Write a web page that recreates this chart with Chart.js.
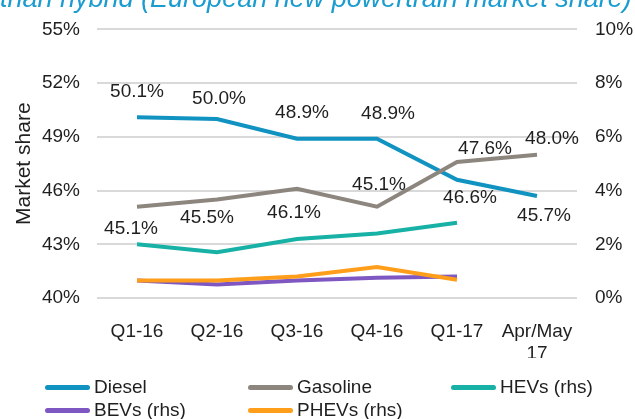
<!DOCTYPE html>
<html>
<head>
<meta charset="utf-8">
<script src="https://cdn.jsdelivr.net/npm/chart.js@4.4.0/dist/chart.umd.min.js"></script>
<style>
  html, body { margin: 0; padding: 0; background: #fff; }
  #wrap { position: relative; width: 635px; height: 419px; overflow: hidden; font-family: "Liberation Sans", Arial, sans-serif; }
  #titulo { position: absolute; left: 0; top: -15px; width: 700px; white-space: nowrap; font-style: italic; font-size: 27px; line-height: 27px; color: #1a9cd0; }
  #legenda { position: absolute; left: 0; top: 0; width: 635px; height: 419px; pointer-events: none; }
  .item { position: absolute; display: flex; align-items: center; font-size: 19px; color: #1f1f1f; white-space: nowrap; }
  .item span.linha { display: inline-block; width: 45px; height: 5px; border-radius: 3px; margin-right: 4px; }
</style>
</head>
<body>
<div id="wrap">
  <canvas id="grafico" width="635" height="419"></canvas>
  <div id="titulo">than hybrid (European new powertrain market share)</div>
  <div id="legenda"></div>
</div>
<script>
// dados
const trimestres = ['Q1-16', 'Q2-16', 'Q3-16', 'Q4-16', 'Q1-17', ['Apr/May', '17']];
const diesel = [50.1, 50.0, 48.9, 48.9, 46.6, 45.7];
const gasolina = [45.1, 45.5, 46.1, 45.1, 47.6, 48.0];
const hevs = [2.0, 1.7, 2.2, 2.4, 2.8, null];
const bevs = [0.65, 0.5, 0.65, 0.75, 0.8, null];
const phevs = [0.65, 0.65, 0.8, 1.15, 0.68, null];
const ticksEsquerda = [40, 43, 46, 49, 52, 55];
const ticksDireita = [0, 2, 4, 6, 8, 10];

// posição dos rótulos (deslocamento em px em relação ao ponto)
const posRotulos = {
    0: { dx: [0, 2, 5, 11, 13, 7], dy: [-25, -20, -26, -25, 18, 20] },
    1: { dx: [-6, -10, -3, 2, 28, 15], dy: [22, 18, 24, -22, -13, -16] }
};

const rotulosPlugin = {
    id: 'rotulos',
    afterDatasetsDraw(chart) {
        const ctx = chart.ctx;
        ctx.save();
        ctx.font = '19px "Liberation Sans", Arial, sans-serif';
        ctx.fillStyle = '#1f1f1f';
        ctx.textAlign = 'center';
        ctx.textBaseline = 'middle';
        Object.keys(posRotulos).forEach(i => {
            const meta = chart.getDatasetMeta(Number(i));
            const ds = chart.data.datasets[i];
            const pos = posRotulos[i];
            meta.data.forEach((pt, j) => {
                const v = ds.data[j];
                if (v == null) return;
                ctx.fillText(v.toFixed(1) + '%', pt.x + pos.dx[j], pt.y + pos.dy[j]);
            });
        });
        ctx.restore();
    }
};

function criarGrafico() {
    const ctx = document.getElementById('grafico').getContext('2d');
    const fonte = { family: '"Liberation Sans", Arial, sans-serif', size: 19 };

    window.meuGrafico = new Chart(ctx, {
        type: 'line',
        data: {
            labels: trimestres,
            datasets: [
                { label: 'Diesel', data: diesel, yAxisID: 'y', borderColor: '#1193c2', order: 2 },
                { label: 'Gasoline', data: gasolina, yAxisID: 'y', borderColor: '#8d867f', order: 1 },
                { label: 'HEVs (rhs)', data: hevs, yAxisID: 'y2', borderColor: '#17b1a6', order: 3 },
                { label: 'BEVs (rhs)', data: bevs, yAxisID: 'y2', borderColor: '#7e57c2', order: 5 },
                { label: 'PHEVs (rhs)', data: phevs, yAxisID: 'y2', borderColor: '#ff9e1b', order: 4 }
            ]
        },
        options: {
            responsive: false,
            animation: false,
            layout: { padding: { top: 21, bottom: 61, left: 0, right: 0 } },
            elements: {
                line: { borderWidth: 4, tension: 0, fill: false },
                point: { radius: 0, hoverRadius: 0 }
            },
            plugins: { legend: { display: false }, tooltip: { enabled: false } },
            scales: {
                x: {
                    offset: true,
                    grid: { display: false },
                    border: { display: false },
                    ticks: { font: fonte, color: '#1f1f1f', padding: 14, maxRotation: 0 },
                    afterFit: s => { s.height = 60; }
                },
                y: {
                    position: 'left',
                    min: 40, max: 55,
                    afterBuildTicks: s => { s.ticks = ticksEsquerda.map(v => ({ value: v })); },
                    grid: { color: '#d9d9d9', lineWidth: 2, drawTicks: false },
                    border: { display: false },
                    ticks: { font: fonte, color: '#1f1f1f', padding: 17, callback: v => v + '%' },
                    title: { display: true, text: 'Market share', font: { family: fonte.family, size: 21 }, color: '#1f1f1f', padding: { top: 12, bottom: 0 } },
                    afterFit: s => { s.width = 97; }
                },
                y2: {
                    position: 'right',
                    min: 0, max: 10,
                    afterBuildTicks: s => { s.ticks = ticksDireita.map(v => ({ value: v })); },
                    grid: { display: false, drawTicks: false },
                    border: { display: false },
                    ticks: { font: fonte, color: '#1f1f1f', padding: 18, callback: v => v + '%' },
                    afterFit: s => { s.width = 58; }
                }
            }
        },
        plugins: [rotulosPlugin]
    });

    criarLegenda(window.meuGrafico);
}

// legenda em grade, como no original
function criarLegenda(grafico) {
    const caixa = document.getElementById('legenda');
    const colunas = [45, 248, 451];
    const linhas = [387, 410];
    grafico.data.datasets.forEach((ds, i) => {
        const el = document.createElement('div');
        el.className = 'item';
        el.style.left = colunas[i % 3] + 'px';
        el.style.top = (linhas[Math.floor(i / 3)] - 11) + 'px';
        el.style.height = '22px';
        el.innerHTML = '<span class="linha" style="background:' + ds.borderColor + '"></span>' + ds.label;
        caixa.appendChild(el);
    });
}

window.addEventListener('DOMContentLoaded', criarGrafico);
</script>
</body>
</html>
